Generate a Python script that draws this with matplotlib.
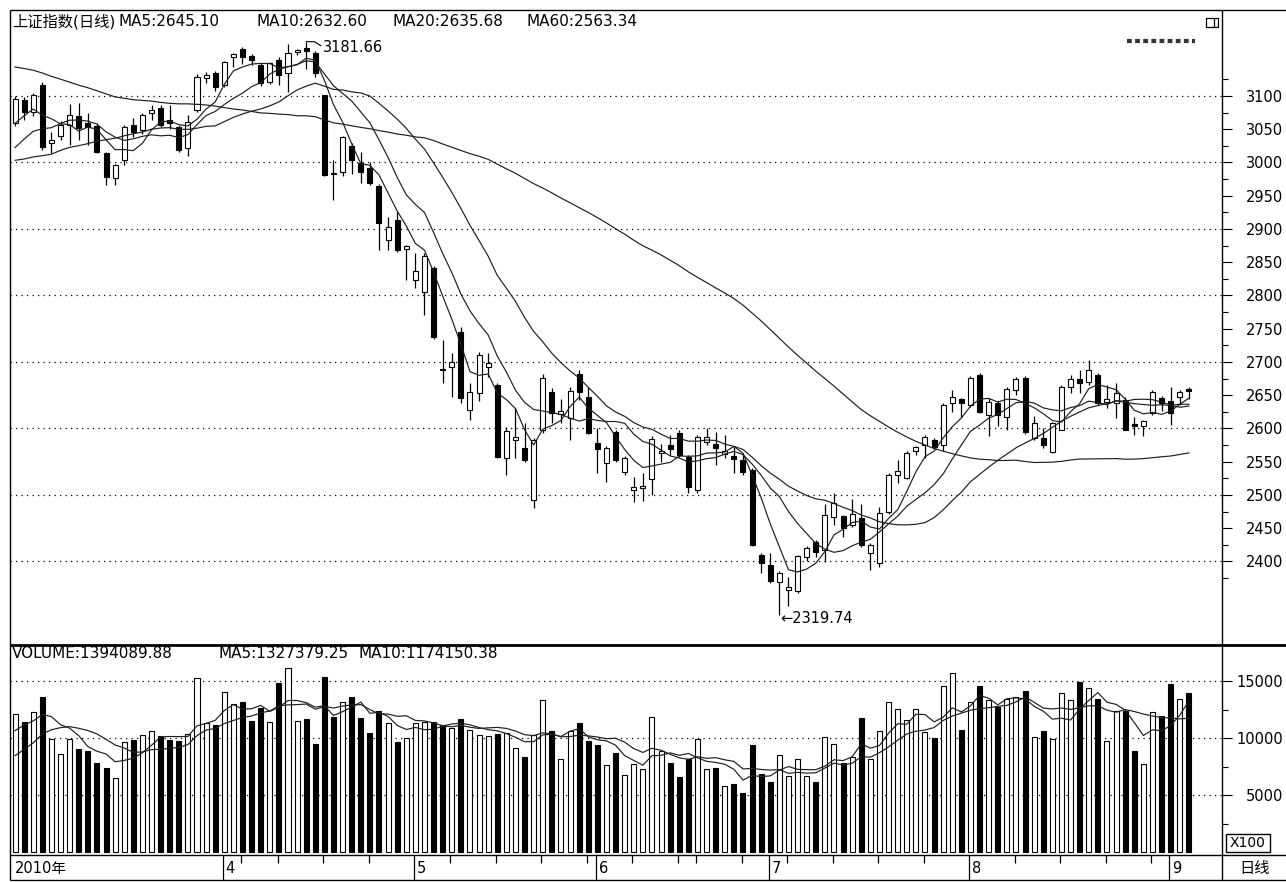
import numpy as np
import pandas as pd
import matplotlib
matplotlib.use("Agg")
import matplotlib.pyplot as plt
from matplotlib.lines import Line2D
from matplotlib.patches import Rectangle

plt.rcParams["font.family"] = ["DejaVu Sans", "Noto Sans CJK SC"]

W, H = 1286, 882

# Shanghai Composite daily bars, 2010-03-01 .. 2010-09-03
open_ = [3060, 3094, 3076, 3117, 3030, 3040, 3056, 3070, 3060, 3055,
         3014, 2977, 3004, 3056, 3049, 3074, 3082, 3064, 3053, 3022,
         3079, 3127, 3135, 3117, 3159, 3170, 3160, 3147, 3121, 3154,
         3135, 3166, 3172, 3165, 3101, 2984, 2986, 3025, 2999, 2992,
         2965, 2883, 2914, 2870, 2823, 2805, 2841, 2690, 2693, 2745,
         2628, 2653, 2692, 2665, 2556, 2583, 2571, 2492, 2597, 2655,
         2622, 2616, 2682, 2647, 2578, 2548, 2595, 2535, 2508, 2511,
         2524, 2563, 2575, 2593, 2557, 2508, 2580, 2577, 2562, 2559,
         2553, 2538, 2410, 2395, 2369, 2357, 2356, 2407, 2429, 2417,
         2467, 2468, 2455, 2465, 2413, 2398, 2474, 2530, 2526, 2566,
         2575, 2583, 2575, 2638, 2644, 2635, 2680, 2620, 2638, 2617,
         2658, 2676, 2586, 2586, 2565, 2598, 2662, 2674, 2670, 2680,
         2640, 2638, 2643, 2606, 2604, 2623, 2646, 2641, 2647, 2660]
high = [3100, 3098, 3104, 3121, 3046, 3062, 3088, 3089, 3074, 3059,
        3016, 2998, 3056, 3067, 3074, 3086, 3086, 3086, 3056, 3071,
        3133, 3136, 3137, 3152, 3165, 3174, 3163, 3149, 3151, 3159,
        3178, 3171, 3181.66, 3167, 3102, 3004, 3040, 3029, 3016, 3000,
        2967, 2918, 2925, 2876, 2864, 2864, 2845, 2733, 2714, 2753,
        2668, 2715, 2714, 2668, 2602, 2631, 2608, 2586, 2682, 2661,
        2644, 2662, 2688, 2662, 2601, 2574, 2598, 2559, 2527, 2533,
        2589, 2576, 2590, 2597, 2560, 2590, 2601, 2595, 2590, 2574,
        2563, 2541, 2412, 2413, 2385, 2377, 2410, 2423, 2433, 2486,
        2503, 2470, 2494, 2486, 2428, 2482, 2533, 2553, 2566, 2574,
        2590, 2586, 2638, 2658, 2646, 2679, 2683, 2646, 2642, 2662,
        2677, 2679, 2619, 2601, 2610, 2665, 2680, 2688, 2703, 2683,
        2666, 2668, 2647, 2617, 2612, 2658, 2649, 2662, 2658, 2662]
low = [3055, 3064, 3070, 3019, 3014, 3034, 3026, 3034, 3026, 3014,
       2966, 2966, 2996, 3038, 3043, 3064, 3053, 3050, 3016, 3010,
       3076, 3120, 3108, 3113, 3144, 3148, 3147, 3115, 3118, 3117,
       3106, 3162, 3140, 3128, 2979, 2944, 2979, 2982, 2969, 2966,
       2868, 2868, 2866, 2823, 2811, 2771, 2735, 2668, 2647, 2638,
       2613, 2641, 2677, 2555, 2530, 2556, 2550, 2481, 2593, 2608,
       2608, 2583, 2643, 2591, 2533, 2520, 2549, 2530, 2489, 2491,
       2500, 2549, 2560, 2557, 2503, 2503, 2575, 2545, 2556, 2533,
       2530, 2424, 2383, 2368, 2319.74, 2333, 2353, 2400, 2406, 2399,
       2455, 2437, 2452, 2422, 2387, 2392, 2472, 2518, 2524, 2560,
       2556, 2569, 2566, 2625, 2617, 2632, 2624, 2589, 2603, 2598,
       2650, 2592, 2582, 2571, 2563, 2597, 2653, 2653, 2665, 2636,
       2631, 2616, 2597, 2590, 2589, 2620, 2627, 2605, 2635, 2645]
close = [3095, 3076, 3101, 3023, 3034, 3056, 3071, 3052, 3054, 3016,
         2978, 2996, 3053, 3046, 3071, 3079, 3056, 3060, 3019, 3061,
         3129, 3132, 3114, 3151, 3163, 3158, 3154, 3119, 3150, 3132,
         3165, 3169, 3168, 3135, 2981, 2982, 3038, 3004, 2986, 2969,
         2909, 2903, 2868, 2874, 2837, 2859, 2738, 2688, 2700, 2646,
         2655, 2711, 2698, 2557, 2596, 2587, 2553, 2583, 2676, 2623,
         2626, 2656, 2655, 2593, 2569, 2571, 2553, 2556, 2512, 2514,
         2584, 2566, 2569, 2560, 2512, 2587, 2587, 2571, 2566, 2554,
         2535, 2425, 2398, 2370, 2383, 2362, 2408, 2420, 2414, 2470,
         2488, 2450, 2471, 2425, 2425, 2473, 2530, 2536, 2563, 2572,
         2587, 2572, 2635, 2647, 2638, 2676, 2625, 2640, 2620, 2659,
         2674, 2595, 2608, 2575, 2608, 2662, 2674, 2668, 2688, 2638,
         2644, 2653, 2598, 2604, 2611, 2655, 2638, 2623, 2655, 2656]
# volume, in units of 100 (axis shows X100)
volume = [12105, 11432, 12309, 13625, 9882, 8596, 9882, 9064, 8830, 7836,
          7397, 6461, 9648, 9824, 10233, 10614, 10175, 9824, 9765, 10321,
          15233, 11286, 11140, 14064, 12953, 13187, 11491, 12602, 11432, 14795,
          16111, 11520, 11637, 9473, 15380, 11871, 13187, 13625, 11725, 10409,
          12397, 11286, 9677, 9970, 11286, 11432, 11432, 11140, 10848, 11637,
          10701, 10262, 10204, 10350, 10409, 9093, 8304, 10262, 13333, 10614,
          8157, 10614, 11345, 9765, 9385, 7631, 8713, 6754, 7690, 7280,
          11812, 8859, 7836, 6608, 8128, 9912, 7280, 7368, 5789, 5935,
          5146, 9385, 6812, 6111, 8508, 6666, 8157, 6666, 6111, 10058,
          9473, 7777, 8362, 11783, 8157, 10614, 13187, 12514, 11578, 12514,
          10497, 9970, 14561, 15672, 10701, 13187, 14561, 13333, 12748, 13391,
          13567, 14122, 10058, 10614, 9912, 13976, 13333, 14882, 14356, 13391,
          9736, 12368, 12397, 8888, 7690, 12251, 11929, 14707, 13420, 13941]

# sessions before 2010-03-01, only used to start the moving averages
warmup_close = [3215,
                3255, 3275, 3330, 3316, 3342, 3320, 3285, 3292, 3260, 3267, 3175, 3180,
                3133, 3137, 3175, 3142, 3070, 3060, 3173, 3190, 3215, 3282, 3297,
                3243, 3282, 3254, 3192, 3196, 3212, 3273, 3172, 3215, 3273, 3246, 3151,
                3159, 3128, 3094, 3075, 3038, 3038, 2986, 2989,
                2941, 2980, 3001, 2995, 2939, 2935, 2949, 2983, 2985, 3018, 2994, 3020,
                3050, 3070, 3060]
warmup_vol = [6000, 6500, 5800, 6200, 6750, 9000, 10500, 10800, 10845]

holidays = ["2010-04-05", "2010-05-03", "2010-06-14", "2010-06-15", "2010-06-16"]
price_ticks = list(range(2400, 3101, 50))
vol_ticks = [5000, 10000, 15000]

dates = pd.bdate_range("2010-03-01", "2010-09-03")
dates = dates[~dates.isin(pd.to_datetime(holidays))]
n = len(close)
x = np.arange(n)

o = np.array(open_, float)
c = np.array(close, float)
hi = np.array(high, float)
lo = np.array(low, float)
vol = np.array(volume, float)

allc = pd.Series(list(warmup_close) + list(close), dtype=float)
ma = {k: allc.rolling(k).mean().values[-n:] for k in (5, 10, 20, 60)}
allv = pd.Series(list(warmup_vol) + list(volume), dtype=float)
vma = {k: allv.rolling(k).mean().values[-n:] for k in (5, 10)}

fig = plt.figure(figsize=(W / 100, H / 100), dpi=100)
fig.patch.set_facecolor("white")


def px_axes(x0, y0, x1, y1):
    return fig.add_axes([x0 / W, 1 - y1 / H, (x1 - x0) / W, (y1 - y0) / H])


def fline(x0, y0, x1, y1, lw=1.0):
    fig.add_artist(Line2D([x0 / W, x1 / W], [1 - y0 / H, 1 - y1 / H],
                          color="black", lw=lw, solid_capstyle="butt"))


def ftext(xp, yp, s, **kw):
    kw.setdefault("fontsize", 11)
    kw.setdefault("va", "center")
    fig.text(xp / W, 1 - yp / H, s, **kw)


XL = (-0.55, 132.64)
BW = 0.55
dotted = dict(color="black", lw=0.9, linestyle=(0, (1, 3.4)))


def right_axis(a, ticks, minor):
    a.yaxis.tick_right()
    a.set_yticks(ticks)
    a.set_yticklabels([str(t) for t in ticks])
    a.set_yticks(minor, minor=True)
    a.tick_params(axis="y", which="major", direction="out", length=7, width=0.8,
                  pad=37, labelsize=10.5)
    a.tick_params(axis="y", which="minor", direction="out", length=4, width=0.8)
    for lbl in a.get_yticklabels():
        lbl.set_horizontalalignment("right")
    a.set_xticks([])
    for s in a.spines.values():
        s.set_visible(False)


# ---- price panel ----
ax = px_axes(10, 10, 1222, 645)
ax.set_xlim(*XL)
ax.set_ylim(2274.4, 3229.3)
for g in range(2400, 3101, 100):
    ax.axhline(g, **dotted, zorder=1)

up = c >= o
body_lo = np.minimum(o, c)
body_h = np.maximum(np.abs(c - o), 0.9)
ax.vlines(x, lo, hi, colors="black", lw=0.9, zorder=2)
ax.bar(x, body_h, bottom=body_lo, width=BW,
       color=np.where(up, "white", "black"), edgecolor="black", lw=0.8, zorder=3)
for k in (5, 10, 20, 60):
    ax.plot(x, ma[k], color="#1e1e1e", lw=0.85, zorder=4)

# high / low markers
ih = int(np.argmax(hi))
il = int(np.argmin(lo))
ax.plot([ih, ih + 0.9, ih + 1.6], [hi[ih], hi[ih], hi[ih] - 6], color="black", lw=0.8)
ax.text(ih + 1.85, hi[ih] - 8, f"{hi[ih]:.2f}", fontsize=10.5, va="center", ha="left")
ax.text(il + 0.1, lo[il] - 6, f"\u2190{lo[il]:.2f}", fontsize=10.5, va="center", ha="left")

right_axis(ax, price_ticks, list(range(2375, 3150, 50)))

# ---- volume panel ----
axv = px_axes(10, 645, 1222, 855)
axv.set_xlim(*XL)
axv.set_ylim(-263, 18158)
for g in vol_ticks:
    axv.axhline(g, **dotted, zorder=1)
axv.bar(x, vol, width=BW, color=np.where(up, "white", "black"),
        edgecolor="black", lw=0.8, zorder=2)
axv.plot(x, vma[5], color="#1e1e1e", lw=0.85, zorder=3)
axv.plot(x, vma[10], color="#1e1e1e", lw=0.85, zorder=3)
right_axis(axv, vol_ticks, [2500, 7500, 12500])

# ---- date strip ----
axd = px_axes(10, 855, 1222, 880)
axd.set_xlim(*XL)
axd.set_ylim(0, 1)
axd.axis("off")
months = dates.month
first_of_month = [i for i in range(n) if i == 0 or months[i] != months[i - 1]]
month_labels = ["2010年", "4", "5", "6", "7", "8", "9"]
for j, i in enumerate(first_of_month):
    if i > 0:
        axd.vlines(i - 0.15, 0, 1, colors="black", lw=0.9)
        axd.text(i + 0.15, 0.45, month_labels[j], fontsize=10.5, va="center", ha="left")
    else:
        axd.text(0.0, 0.45, month_labels[j], fontsize=10.5, va="center", ha="left")
wd = dates.weekday
for i in range(1, n):
    if wd[i] < wd[i - 1] and i not in first_of_month and i > 22:
        axd.vlines(i - 0.15, 0.7, 1, colors="black", lw=0.9)

# ---- frames and side column ----
fline(10, 10, 1286, 10)
fline(10, 645, 1286, 645, lw=2.0)
fline(10, 855, 1286, 855)
fline(10, 880, 1286, 880)
fline(10, 10, 10, 880)
fline(1222, 10, 1222, 880)

# header texts
ftext(12, 22, "上证指数(日线)")
ftext(118, 22, "MA5:2645.10")
ftext(257, 22, "MA10:2632.60")
ftext(392, 22, "MA20:2635.68")
ftext(527, 22, "MA60:2563.34")
ftext(12, 653, "VOLUME:1394089.88")
ftext(219, 653, "MA5:1327379.25")
ftext(358, 653, "MA10:1174150.38")

# small icons top right
fig.add_artist(Rectangle((1206 / W, 1 - 27 / H), 12 / W, 9 / H, transform=fig.transFigure,
                         fill=False, edgecolor="black", lw=0.9))
fline(1214, 18, 1214, 27, lw=0.9)
fig.add_artist(Line2D([1127 / W, 1195 / W], [1 - 41 / H, 1 - 41 / H], color="#333333",
                      lw=3.0, linestyle=(0, (1.15, 0.8))))

# X100 box and 日线
fig.add_artist(Rectangle((1226 / W, 1 - 852 / H), 44 / W, 18 / H, transform=fig.transFigure,
                         fill=False, edgecolor="black", lw=1.0))
ftext(1248, 843, "X100", fontsize=10, ha="center")
ftext(1255, 868, "日线", ha="center")

fig.savefig("out.png", dpi=100, facecolor="white")
